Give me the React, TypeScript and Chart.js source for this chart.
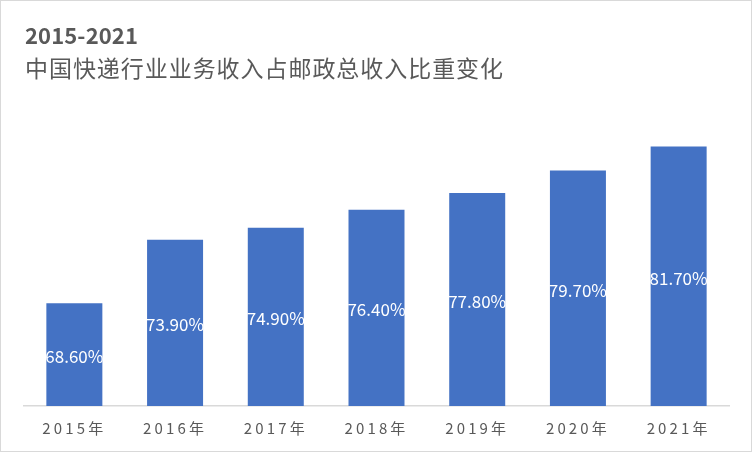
import React, { useEffect, useRef } from "react";
import { Chart, registerables } from "chart.js";

Chart.register(...registerables);

const categories = ["2015年", "2016年", "2017年", "2018年", "2019年", "2020年", "2021年"];
const shares = [68.6, 73.9, 74.9, 76.4, 77.8, 79.7, 81.7];
const titleLine1 = "2015-2021";
const titleLine2 = "中国快递行业业务收入占邮政总收入比重变化";

const FONT = '"Noto Sans CJK SC", "Noto Sans", sans-serif';

function spacingFor(ctx: any, text: string, font: string, target: number) {
  ctx.save();
  ctx.letterSpacing = "0px";
  ctx.font = font;
  const w = ctx.measureText(text).width;
  ctx.restore();
  const n = Array.from(text).length;
  return Math.max(0, (target - w) / n);
}

const decorPlugin = {
  id: "decor",
  beforeDraw(chart: any) {
    const ctx = chart.ctx;
    ctx.save();
    ctx.fillStyle = "#ffffff";
    ctx.fillRect(0, 0, chart.width, chart.height);
    ctx.restore();
    const sp = spacingFor(ctx, categories[0], `15px ${FONT}`, 64);
    ctx.letterSpacing = `${sp}px`;
  },
  afterDraw(chart: any) {
    const ctx = chart.ctx;
    ctx.letterSpacing = "0px";
    const xs = chart.scales.x;
    const ys = chart.scales.y;
    const base = ys.getPixelForValue(ys.min);
    ctx.save();
    ctx.fillStyle = "#ffffff";
    ctx.font = `17px ${FONT}`;
    ctx.textAlign = "center";
    ctx.textBaseline = "middle";
    for (let i = 0; i < shares.length; i++) {
      const x = xs.getPixelForValue(i);
      const top = ys.getPixelForValue(shares[i]);
      const y = (top + base) / 2 + 2;
      ctx.fillText(shares[i].toFixed(2) + "%", x, y);
    }
    ctx.restore();

    ctx.save();
    ctx.textAlign = "left";
    ctx.textBaseline = "middle";
    ctx.fillStyle = "#595959";
    const f1 = `bold 22px ${FONT}`;
    const s1 = spacingFor(ctx, titleLine1, f1, 113);
    ctx.letterSpacing = `${s1}px`;
    ctx.font = f1;
    ctx.fillText(titleLine1, 25, 36);
    const f2 = `23px ${FONT}`;
    const s2 = spacingFor(ctx, titleLine2, f2, 479);
    ctx.letterSpacing = `${s2}px`;
    ctx.font = f2;
    ctx.fillText(titleLine2, 25, 68);
    ctx.letterSpacing = "0px";
    ctx.strokeStyle = "#d9d9d9";
    ctx.lineWidth = 1;
    ctx.strokeRect(0.5, 0.5, chart.width - 1, chart.height - 1);
    ctx.restore();
  },
};

export default function App() {
  const ref = useRef<HTMLCanvasElement>(null);
  useEffect(() => {
    document.body.style.margin = "0";
    const chart = new Chart(ref.current!, {
      type: "bar",
      data: {
        labels: categories,
        datasets: [
          {
            data: shares,
            backgroundColor: "#4472C4",
            barPercentage: 0.556,
            categoryPercentage: 1,
          },
        ],
      },
      options: {
        animation: false,
        responsive: false,
        layout: { padding: { left: 24, right: 23, top: 107, bottom: 2 } },
        plugins: {
          legend: { display: false },
          tooltip: { enabled: false },
          title: { display: false },
        },
        scales: {
          x: {
            grid: { display: false, drawTicks: false },
            border: { display: true, color: "#d9d9d9", width: 1.5 },
            ticks: {
              color: "#595959",
              font: { family: FONT, size: 15 },
              padding: 13,
              maxRotation: 0,
            },
          },
          y: {
            display: false,
            min: 60,
            max: 85,
          },
        },
      },
      plugins: [decorPlugin],
    });
    return () => chart.destroy();
  }, []);
  return (
    <div style={{ position: "absolute", left: 0, top: 0, width: 752, height: 452 }}>
      <canvas ref={ref} width={752} height={452} />
    </div>
  );
}
